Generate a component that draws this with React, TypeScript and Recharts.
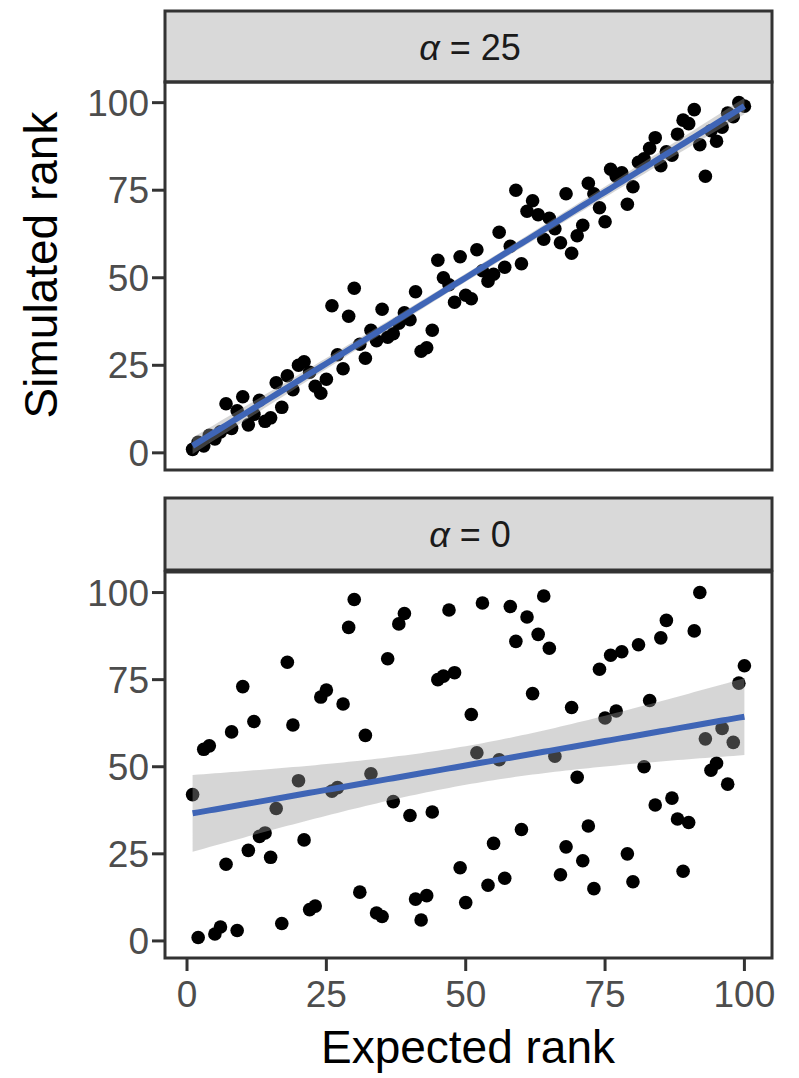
import React from "react";
import { ComposedChart, Scatter, Area, Line, XAxis, YAxis } from "recharts";

// expected rank (x) shared by both facets
const expectedRank = [
  1, 2, 3, 4, 5, 6, 7, 8, 9, 10, 11, 12, 13, 14, 15, 16, 17, 18, 19, 20,
  21, 22, 23, 24, 25, 26, 27, 28, 29, 30, 31, 32, 33, 34, 35, 36, 37, 38, 39, 40,
  41, 42, 43, 44, 45, 46, 47, 48, 49, 50, 51, 52, 53, 54, 55, 56, 57, 58, 59, 60,
  61, 62, 63, 64, 65, 66, 67, 68, 69, 70, 71, 72, 73, 74, 75, 76, 77, 78, 79, 80,
  81, 82, 83, 84, 85, 86, 87, 88, 89, 90, 91, 92, 93, 94, 95, 96, 97, 98, 99, 100,
];

// simulated rank, alpha = 25
const simAlpha25 = [
  1, 3, 2, 5, 4, 6, 14, 7, 12, 16, 8, 11, 15, 9, 10, 20, 13, 22, 18, 25,
  26, 23, 19, 17, 21, 42, 28, 24, 39, 47, 31, 27, 35, 32, 41, 33, 34, 37, 40, 38,
  46, 29, 30, 35, 55, 50, 48, 43, 56, 45, 44, 58, 52, 49, 51, 63, 53, 59, 75, 54,
  69, 72, 68, 61, 67, 64, 60, 74, 57, 62, 65, 77, 74, 70, 66, 81, 79, 80, 71, 76,
  83, 84, 87, 90, 82, 86, 85, 91, 95, 94, 98, 88, 79, 92, 89, 93, 97, 96, 100, 99,
];

// simulated rank, alpha = 0
const simAlpha0 = [
  42, 1, 55, 56, 2, 4, 22, 60, 3, 73, 26, 63, 30, 31, 24, 38, 5, 80, 62, 46,
  29, 9, 10, 70, 72, 43, 44, 68, 90, 98, 14, 59, 48, 8, 7, 81, 40, 91, 94, 36,
  12, 6, 13, 37, 75, 76, 95, 77, 21, 11, 65, 54, 97, 16, 28, 52, 18, 96, 86, 32,
  93, 71, 88, 99, 84, 53, 19, 27, 67, 47, 23, 33, 15, 78, 64, 82, 66, 83, 25, 17,
  85, 50, 69, 39, 87, 92, 41, 35, 20, 34, 89, 100, 58, 49, 51, 61, 45, 57, 74, 79,
];

const yTicks = [0, 25, 50, 75, 100];
const xTicks = [0, 25, 50, 75, 100];
const xDomain = [-3.95, 104.95];
const yDomain = [-4.9, 105.9];

const FONT = '"Liberation Sans", Arial, Helvetica, sans-serif';

// lm fit with 95% confidence band, same as geom_smooth(method = "lm")
function lmBand(xs: number[], ys: number[]) {
  const n = xs.length;
  const mx = xs.reduce((a, b) => a + b, 0) / n;
  const my = ys.reduce((a, b) => a + b, 0) / n;
  let sxx = 0;
  let sxy = 0;
  for (let i = 0; i < n; i++) {
    sxx += (xs[i] - mx) ** 2;
    sxy += (xs[i] - mx) * (ys[i] - my);
  }
  const b = sxy / sxx;
  const a = my - b * mx;
  let sse = 0;
  for (let i = 0; i < n; i++) sse += (ys[i] - a - b * xs[i]) ** 2;
  const s = Math.sqrt(sse / (n - 2));
  const t = 1.984;
  return xs.map((x) => {
    const fit = a + b * x;
    const se = s * Math.sqrt(1 / n + (x - mx) ** 2 / sxx);
    return { x, fit, band: [fit - t * se, fit + t * se] };
  });
}

const dot = (p: any) => <circle cx={p.cx} cy={p.cy} r={6.8} fill="#000" />;

const tickStyle = { fill: "#4d4d4d", fontSize: 37, fontFamily: FONT };
const tickLine = { stroke: "#333333", strokeWidth: 3 };

// points + axes
function PointsPanel({ ys, showX, height, bottom }: { ys: number[]; showX: boolean; height: number; bottom: number }) {
  const points = expectedRank.map((x, i) => ({ x, y: ys[i] }));
  return (
    <ComposedChart width={799} height={height} margin={{ top: 82, right: 27, bottom, left: 105 }}>
      <XAxis
        type="number"
        dataKey="x"
        domain={xDomain}
        ticks={xTicks}
        allowDataOverflow
        hide={!showX}
        height={60}
        axisLine={false}
        tickLine={tickLine}
        tickSize={13}
        tickMargin={10}
        tick={tickStyle}
        interval={0}
      />
      <YAxis
        type="number"
        dataKey="y"
        domain={yDomain}
        ticks={yTicks}
        allowDataOverflow
        width={60}
        axisLine={false}
        tickLine={tickLine}
        tickSize={13}
        tickMargin={3}
        tick={tickStyle}
        interval={0}
      />
      <Scatter data={points} shape={dot} isAnimationActive={false} />
    </ComposedChart>
  );
}

// smoother drawn above the points, like ggplot layer order
function SmoothPanel({ ys, height, bottom }: { ys: number[]; height: number; bottom: number }) {
  const fitData = lmBand(expectedRank, ys);
  return (
    <ComposedChart width={799} height={height} data={fitData} margin={{ top: 82, right: 27, bottom, left: 165 }}>
      <XAxis type="number" dataKey="x" domain={xDomain} allowDataOverflow hide />
      <YAxis type="number" domain={yDomain} allowDataOverflow hide />
      <Area dataKey="band" type="linear" fill="#999999" fillOpacity={0.4} stroke="none" isAnimationActive={false} />
      <Line dataKey="fit" type="linear" stroke="#3F65B6" strokeWidth={6} dot={false} isAnimationActive={false} />
    </ComposedChart>
  );
}

export default function App() {
  return (
    <div style={{ position: "absolute", left: 0, top: 0, width: 799, height: 1078, background: "#fff", fontFamily: FONT }}>
      <div style={{ position: "absolute", left: 0, top: 0 }}>
        <PointsPanel ys={simAlpha25} showX={false} height={480} bottom={10} />
      </div>
      <div style={{ position: "absolute", left: 0, top: 0 }}>
        <SmoothPanel ys={simAlpha25} height={480} bottom={10} />
      </div>
      <div style={{ position: "absolute", left: 0, top: 490 }}>
        <PointsPanel ys={simAlpha0} showX={true} height={588} bottom={60} />
      </div>
      <div style={{ position: "absolute", left: 0, top: 490 }}>
        <SmoothPanel ys={simAlpha0} height={588} bottom={120} />
      </div>
      <svg width={799} height={1078} style={{ position: "absolute", left: 0, top: 0, pointerEvents: "none" }}>
        {/* facet strips */}
        <rect x={165} y={11} width={607} height={71} fill="#d9d9d9" stroke="#333333" strokeWidth={3} />
        <text x={470} y={60} textAnchor="middle" fontSize={36} fill="#1a1a1a" fontFamily={FONT}>
          <tspan fontStyle="italic">α</tspan> = 25
        </text>
        <rect x={165} y={498} width={607} height={72} fill="#d9d9d9" stroke="#333333" strokeWidth={3} />
        <text x={470} y={547} textAnchor="middle" fontSize={36} fill="#1a1a1a" fontFamily={FONT}>
          <tspan fontStyle="italic">α</tspan> = 0
        </text>
        {/* panel borders */}
        <rect x={165} y={82} width={607} height={388} fill="none" stroke="#333333" strokeWidth={3} />
        <rect x={165} y={572} width={607} height={386} fill="none" stroke="#333333" strokeWidth={3} />
        {/* axis titles */}
        <text x={468} y={1063} textAnchor="middle" fontSize={46} fill="#000" fontFamily={FONT}>
          Expected rank
        </text>
        <text
          x={0}
          y={0}
          transform="translate(57,265) rotate(-90)"
          textAnchor="middle"
          fontSize={46}
          fill="#000"
          fontFamily={FONT}
        >
          Simulated rank
        </text>
      </svg>
    </div>
  );
}
